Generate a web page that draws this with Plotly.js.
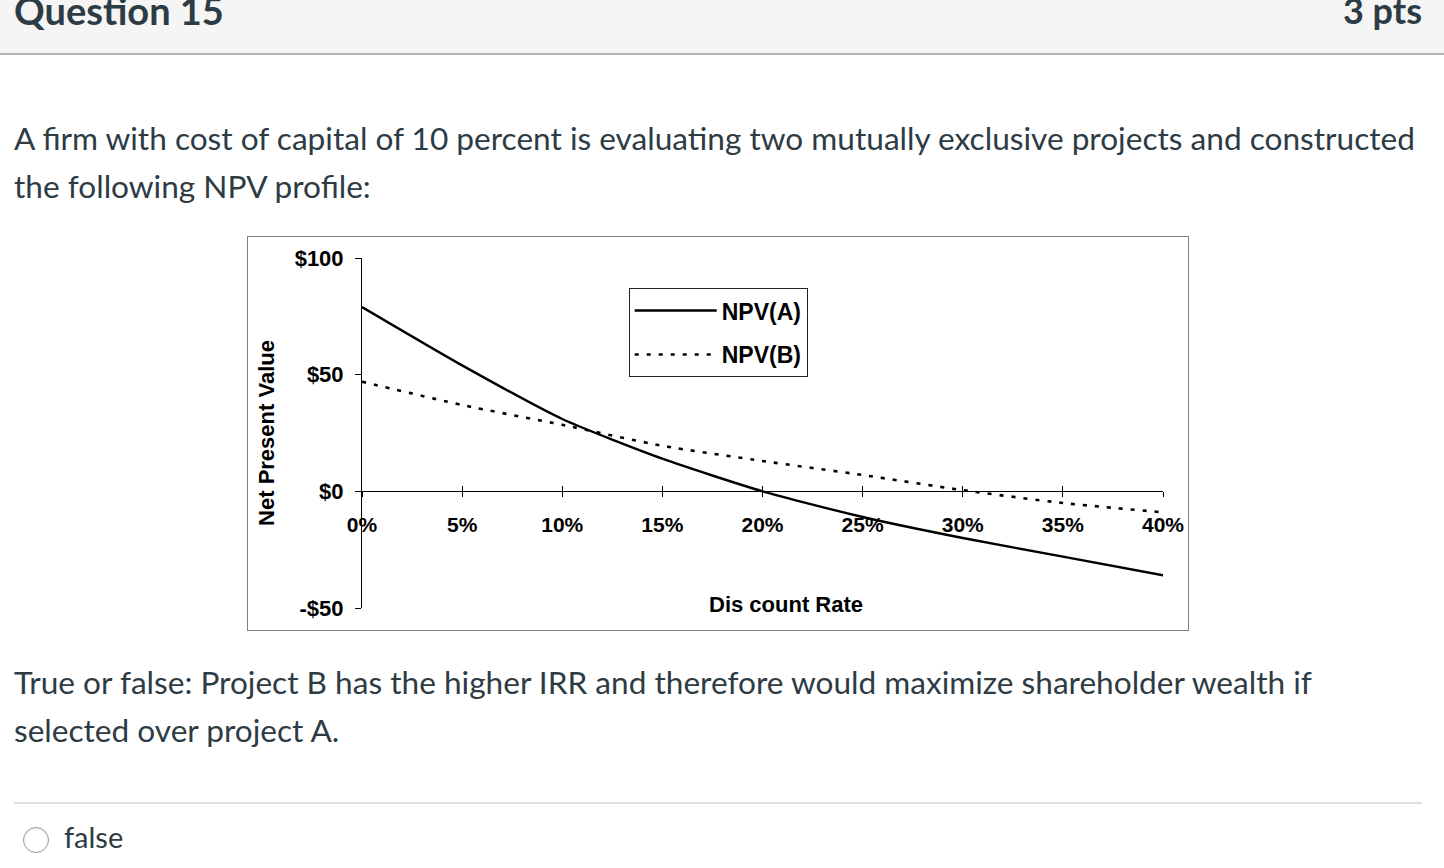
<!DOCTYPE html>
<html>
<head>
<meta charset="utf-8">
<script src="https://cdn.plot.ly/plotly-3.0.1.min.js"></script>
<style>
  html,body{margin:0;padding:0;background:#fff;}
  body{width:1444px;height:868px;overflow:hidden;position:relative;font-family:Lato,"Noto Sans",sans-serif;color:#2d3b45;}
  .hdr{position:absolute;left:0;top:0;width:1444px;height:53px;background:#f5f5f5;border-bottom:2px solid #b0b5b9;}
  .qt{position:absolute;left:14px;top:-14px;font-size:38px;font-weight:700;line-height:48px;white-space:nowrap;}
  .pts{position:absolute;right:22px;top:-14px;font-size:36px;font-weight:700;line-height:48px;white-space:nowrap;}
  .p{position:absolute;left:14px;font-size:31.6px;line-height:48px;white-space:nowrap;}
  #chart{position:absolute;left:247px;top:236px;width:940px;height:393px;border:1px solid #7f7f7f;}
  .rule{position:absolute;left:14px;top:802px;width:1408px;height:2px;background:#e0e0e0;}
  .radio{position:absolute;left:23px;top:827px;width:26px;height:26px;border-radius:50%;border:1px solid #9a9a9a;box-sizing:border-box;background:#fff;box-shadow:inset 0 1px 2px rgba(0,0,0,0.1);}
  .opt{position:absolute;left:64px;top:815px;font-size:29px;line-height:44px;}
</style>
</head>
<body>
<div class="hdr"><div class="qt">Question 15</div><div class="pts">3 pts</div></div>
<div class="p" style="top:114px;">A firm with cost of capital of 10 percent is evaluating two mutually exclusive projects and constructed</div>
<div class="p" style="top:162px;">the following NPV profile:</div>
<div id="chart"></div>
<div class="p" style="top:658px;">True or false: Project B has the higher IRR and therefore would maximize shareholder wealth if</div>
<div class="p" style="top:706px;">selected over project A.</div>
<div class="rule"></div>
<div class="radio"></div>
<div class="opt">false</div>

<script>
// Discount rates (%)
const rates = [0, 5, 10, 15, 20, 25, 30, 35, 40];
// NPV of project A ($)
const npvA = [79, 54, 31, 14, 0, -11, -20, -28, -36];
// NPV of project B ($)
const npvB = [47, 37, 28.5, 19.5, 13, 7, 0.5, -5, -9];
// Axis ticks
const xTickVals = [0, 5, 10, 15, 20, 25, 30, 35, 40];
const xTickText = ["0%", "5%", "10%", "15%", "20%", "25%", "30%", "35%", "40%"];
const yTickVals = [-50, 0, 50, 100];
const yTickText = ["-$50", "$0", "$50", "$100"];
const seriesNames = ["NPV(A)", "NPV(B)"];

const fontFam = 'Arial, "Liberation Sans", sans-serif';

const traces = [
  {x: rates, y: npvA, name: seriesNames[0], type: 'scatter', mode: 'lines',
   line: {color: '#000', width: 2.4, shape: 'spline', smoothing: 0.6}, legendgroup: 'a', hoverinfo: 'skip'},
  {x: rates, y: npvB, name: seriesNames[1], type: 'scatter', mode: 'lines',
   line: {color: '#000', width: 2.6, dash: '4px,8px', shape: 'spline', smoothing: 0.6}, legendgroup: 'b', hoverinfo: 'skip'},
  // invisible trace to activate the inner-tick overlay axis
  {x: rates, y: npvA, xaxis: 'x2', yaxis: 'y', type: 'scatter', mode: 'lines', line: {width: 0}, opacity: 0, showlegend: false, hoverinfo: 'skip'}
];

const layout = {
  width: 940, height: 393,
  margin: {l: 114, r: 25, t: 21, b: 22},
  paper_bgcolor: '#fff', plot_bgcolor: '#fff',
  showlegend: true,
  font: {family: fontFam, color: '#000'},
  xaxis: {
    range: [0, 40], anchor: 'free', position: 1/3,
    tickvals: xTickVals, ticktext: xTickText,
    ticks: 'outside', ticklen: 5, tickwidth: 1, tickcolor: '#000',
    showline: true, linecolor: '#000', linewidth: 1,
    showgrid: false, zeroline: false,
    tickfont: {family: fontFam, size: 21, color: '#000', weight: 700},
    ticklabelstandoff: 9, fixedrange: true
  },
  xaxis2: {
    range: [0, 40], overlaying: 'x', anchor: 'free', position: 1/3,
    tickvals: xTickVals, showticklabels: false,
    ticks: 'inside', ticklen: 5, tickwidth: 1, tickcolor: '#000',
    showline: false, showgrid: false, zeroline: false, fixedrange: true
  },
  yaxis: {
    range: [-50, 100], domain: [0, 1], anchor: 'x',
    tickvals: yTickVals, ticktext: yTickText,
    ticks: 'outside', ticklen: 6, tickwidth: 1, tickcolor: '#000',
    showline: true, linecolor: '#000', linewidth: 1,
    showgrid: false, zeroline: false,
    tickfont: {family: fontFam, size: 22, color: '#000', weight: 700},
    ticklabelstandoff: 7, fixedrange: true,
    title: {text: 'Net Present Value', font: {family: fontFam, size: 22, color: '#000', weight: 700}, standoff: 13}
  },
  legend: {
    x: 0.333, y: 0.914, xanchor: 'left', yanchor: 'top',
    bgcolor: '#fff', bordercolor: '#222', borderwidth: 1,
    font: {family: fontFam, size: 23, color: '#000', weight: 700},
    traceorder: 'grouped', tracegroupgap: 11, itemwidth: 82
  },
  annotations: [
    {text: 'Dis count Rate', xref: 'paper', yref: 'paper', x: 0.529, y: 0.01,
     xanchor: 'center', yanchor: 'middle', showarrow: false,
     font: {family: fontFam, size: 22, color: '#000', weight: 700}}
  ]
};

Plotly.newPlot('chart', traces, layout, {displayModeBar: false, staticPlot: true});
</script>
</body>
</html>
